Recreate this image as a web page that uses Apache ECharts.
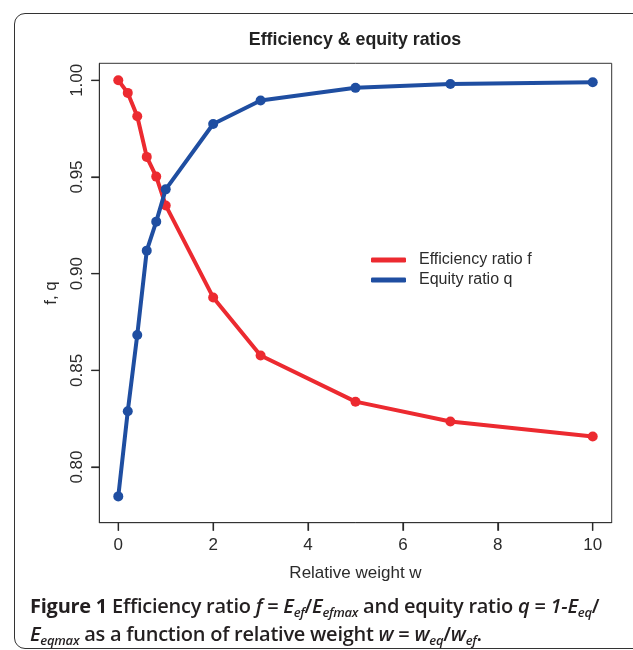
<!DOCTYPE html>
<html>
<head>
<meta charset="utf-8">
<script src="https://cdn.jsdelivr.net/npm/echarts@6/dist/echarts.min.js"></script>
<style>
  html, body { margin: 0; padding: 0; background: #fff; }
  #wrap { position: relative; width: 633px; height: 650px; overflow: hidden; }
  #frame { position: absolute; left: 14px; top: 13px; width: 660px; height: 636px;
           border: 1.3px solid #333; border-radius: 11px; box-sizing: border-box; }
  #chart { position: absolute; left: 0; top: 0; width: 633px; height: 650px; }
  #caption { position: absolute; left: 30px; top: 592px; width: 610px; white-space: nowrap;
             font-family: "Open Sans", "Noto Sans", sans-serif; font-size: 20px;
             line-height: 28px; color: #231f20; letter-spacing: -0.25px; font-weight: 600; }
  #caption b { font-weight: 700; }
  #caption sub { font-size: 13px; vertical-align: -4px; line-height: 0; }
</style>
</head>
<body>
<div id="wrap">
  <div id="frame"></div>
  <div id="chart"></div>
  <div id="caption"><b>Figure 1</b> Efficiency ratio <i>f</i> = <i>E<sub>ef</sub></i>/<i>E<sub>efmax</sub></i> and equity ratio <i>q</i> = <i>1-E<sub>eq</sub></i>/<br><i>E<sub>eqmax</sub></i> as a function of relative weight <i>w</i> = <i>w<sub>eq</sub></i>/<i>w<sub>ef</sub></i>.</div>
</div>
<script>
// ---- data ----
const weights = [0, 0.2, 0.4, 0.6, 0.8, 1, 2, 3, 5, 7, 10];
const efficiencyF = [1.000, 0.9935, 0.9814, 0.9604, 0.9502, 0.9353, 0.8877, 0.8577, 0.8338, 0.8235, 0.8158];
const equityQ = [0.7848, 0.8288, 0.8683, 0.9119, 0.9269, 0.9436, 0.9774, 0.9896, 0.9961, 0.9981, 0.9990];
const xTicks = [0, 2, 4, 6, 8, 10];
const yTicks = [0.80, 0.85, 0.90, 0.95, 1.00];
const seriesNames = ['Efficiency ratio f', 'Equity ratio q'];

const X_MIN = -0.4, X_MAX = 10.4;     // R-style 4% padding around 0..10
const Y_MIN = 0.7712, Y_MAX = 1.0088; // R-style 4% padding around 0.78..1.00

const RED = '#ec2a30';
const BLUE = '#1f4ea1';
const TXT = '#2b2b2b';
const TICK = '#2a2a2a';
const TICK_LEN = 8;
const FONT = '"Liberation Sans", Arial, sans-serif';

const chart = echarts.init(document.getElementById('chart'), null, { renderer: 'canvas' });

const pairs = (ys) => weights.map((w, i) => [w, ys[i]]);

const titleGraphic = {
  id: 'title', type: 'text', x: 355, y: 40,
  style: { text: 'Efficiency & equity ratios', font: 'bold 17.8px ' + FONT, fill: '#222',
           textAlign: 'center', textVerticalAlign: 'middle', verticalAlign: 'middle' }
};

chart.setOption({
  backgroundColor: 'transparent',
  animation: false,
  textStyle: { fontFamily: FONT },
  graphic: [titleGraphic],
  grid: { left: 99.3, right: 21.3, top: 63.3, bottom: 127.3, show: true,
          borderColor: '#333', borderWidth: 1, backgroundColor: 'transparent', containLabel: false },
  legend: {
    orient: 'vertical', left: 366, top: 247, itemWidth: 35, itemHeight: 5, itemGap: 4,
    icon: 'roundRect',
    textStyle: { fontSize: 16, color: TXT, fontFamily: FONT, lineHeight: 16, padding: [0, 0, 0, 8] },
    data: seriesNames
  },
  xAxis: {
    type: 'value', min: X_MIN, max: X_MAX, position: 'bottom',
    name: 'Relative weight w', nameLocation: 'middle', nameGap: 42,
    nameTextStyle: { fontSize: 17, color: TXT, fontFamily: FONT },
    axisLine: { show: true, onZero: false, lineStyle: { color: '#333', width: 1 } },
    axisTick: { show: true, length: TICK_LEN, customValues: xTicks, lineStyle: { color: TICK, width: 1.2 } },
    axisLabel: { customValues: xTicks, fontSize: 17, color: TXT, margin: 14, fontFamily: FONT,
                 formatter: (v) => String(v) },
    splitLine: { show: false }
  },
  yAxis: {
    type: 'value', min: Y_MIN, max: Y_MAX, position: 'left',
    name: 'f, q', nameLocation: 'middle', nameGap: 39, nameRotate: 90,
    nameTextStyle: { fontSize: 17, color: TXT, fontFamily: FONT },
    axisLine: { show: true, onZero: false, lineStyle: { color: '#333', width: 1 } },
    axisTick: { show: true, length: TICK_LEN, customValues: yTicks, lineStyle: { color: TICK, width: 1.2 } },
    axisLabel: { customValues: yTicks, fontSize: 17, color: TXT, margin: 13, rotate: 90, fontFamily: FONT,
                 formatter: (v) => v.toFixed(2) },
    splitLine: { show: false }
  },
  series: [
    { name: seriesNames[0], type: 'line', data: pairs(efficiencyF), symbol: 'circle', symbolSize: 10,
      itemStyle: { color: RED }, lineStyle: { color: RED, width: 4 }, z: 2 },
    { name: seriesNames[1], type: 'line', data: pairs(equityQ), symbol: 'circle', symbolSize: 10,
      itemStyle: { color: BLUE }, lineStyle: { color: BLUE, width: 4 }, z: 3 }
  ]
});

// outward tick marks, positioned through the chart's own axis scales
const tickLines = [];
xTicks.forEach((v, i) => {
  const p = chart.convertToPixel({ gridIndex: 0 }, [v, Y_MIN]);
  if (p) tickLines.push({ id: 'xt' + i, type: 'line', z: 100, silent: true,
    shape: { x1: p[0], y1: p[1], x2: p[0], y2: p[1] + TICK_LEN },
    style: { stroke: TICK, lineWidth: 1.2 } });
});
yTicks.forEach((v, i) => {
  const p = chart.convertToPixel({ gridIndex: 0 }, [X_MIN, v]);
  if (p) tickLines.push({ id: 'yt' + i, type: 'line', z: 100, silent: true,
    shape: { x1: p[0] - TICK_LEN, y1: p[1], x2: p[0], y2: p[1] },
    style: { stroke: TICK, lineWidth: 1.2 } });
});
chart.setOption({ graphic: [titleGraphic].concat(tickLines) });
</script>
</body>
</html>
